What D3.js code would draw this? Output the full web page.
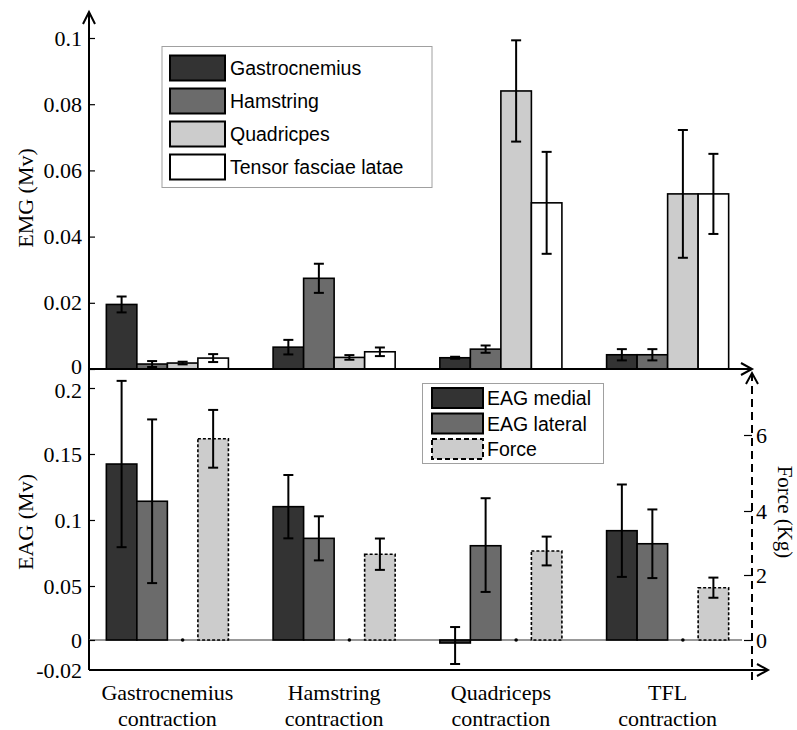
<!DOCTYPE html>
<html>
<head>
<meta charset="utf-8">
<script src="https://cdn.jsdelivr.net/npm/d3@7"></script>
<style>
  html, body { margin: 0; padding: 0; background: #fff; }
  svg { display: block; }
</style>
</head>
<body>
<svg id="chart" width="797" height="730"></svg>
<script>
// ---------------- DATA ----------------
const categories = ["Gastrocnemius contraction", "Hamstring contraction", "Quadriceps contraction", "TFL contraction"];
const catLines = [["Gastrocnemius", "contraction"], ["Hamstring", "contraction"], ["Quadriceps", "contraction"], ["TFL", "contraction"]];

// Top panel: EMG (Mv)
const emgSeries = ["Gastrocnemius", "Hamstring", "Quadricpes", "Tensor fasciae latae"];
const emgGastrocnemius = [0.0195, 0.0066, 0.0034, 0.0043];
const emgGastrocnemiusErr = [0.0024, 0.0022, 0.0003, 0.0017];
const emgHamstring = [0.0015, 0.0274, 0.0060, 0.0043];
const emgHamstringErr = [0.0009, 0.0044, 0.0011, 0.0017];
const emgQuadriceps = [0.0018, 0.0035, 0.0840, 0.0529];
const emgQuadricepsErr = [0.0004, 0.0007, 0.0153, 0.0193];
const emgTFL = [0.0033, 0.0052, 0.0502, 0.0529];
const emgTFLErr = [0.0012, 0.0013, 0.0154, 0.0121];
const emgTicks = [0, 0.02, 0.04, 0.06, 0.08, 0.1];
const emgTickLabels = ["0", "0.02", "0.04", "0.06", "0.08", "0.1"];

// Bottom panel: EAG (Mv) and Force (Kg)
const eagSeries = ["EAG medial", "EAG lateral", "Force"];
const eagMedial = [0.1424, 0.1101, -0.0020, 0.0919];
const eagMedialErr = [0.063, 0.024, 0.014, 0.035];
const eagLateral = [0.1142, 0.0861, 0.0805, 0.0820];
const eagLateralErr = [0.062, 0.0167, 0.036, 0.026];
const force = [5.90, 2.65, 2.75, 1.61];
const forceErr = [0.76, 0.49, 0.45, 0.31];
const eagTicks = [-0.02, 0, 0.05, 0.1, 0.15, 0.2];
const eagTickLabels = ["-0.02", "0", "0.05", "0.1", "0.15", "0.2"];
const forceTicks = [0, 2, 4, 6];
const forceTickLabels = ["0", "2", "4", "6"];

// ---------------- STYLE ----------------
const fills = ["#333333", "#6b6b6b", "#cccccc", "#ffffff"];
const serif = "'Liberation Serif', 'Times New Roman', serif";
const sans = "'Liberation Sans', Arial, sans-serif";
const serifSize = 22;

const svg = d3.select("#chart");

// ---------------- SCALES ----------------
const xAxisLeft = 89, xAxisRight = 752;
const x0 = d3.scaleBand().domain(categories).range([84, 751]).paddingInner(0.268).paddingOuter(0.134);
const x1 = d3.scaleBand().domain([0, 1, 2, 3]).range([0, x0.bandwidth()]);

const yTop = d3.scaleLinear().domain([0, 0.1]).range([369, 38]);
// bottom axes as drawn in the picture (piecewise linear)
const yBot = d3.scaleLinear().domain([-0.02, 0, 0.05, 0.2]).range([670, 640, 586, 388]);
const yForce = d3.scaleLinear().domain([0, 2, 4, 6]).range([640, 575, 511, 435]);

// ---------------- HELPERS ----------------
function drawBars(g, vals, errs, slot, yScale, fill, dashed) {
  const data = vals.map((v, i) => ({ c: categories[i], v: v, e: errs[i] }));
  const bx = d => x0(d.c) + x1(slot);
  const bw = x1.bandwidth();
  g.selectAll(null).data(data).enter().append("rect")
    .attr("x", bx)
    .attr("y", d => Math.min(yScale(d.v), yScale(0)))
    .attr("width", bw)
    .attr("height", d => Math.abs(yScale(0) - yScale(d.v)))
    .attr("fill", fill)
    .attr("stroke", "#000")
    .attr("stroke-width", 1.6)
    .attr("stroke-dasharray", dashed ? "3,2" : null);
  const eb = g.selectAll(null).data(data).enter().append("g")
    .attr("stroke", "#000").attr("stroke-width", 2);
  eb.append("line")
    .attr("x1", d => bx(d) + bw / 2).attr("x2", d => bx(d) + bw / 2)
    .attr("y1", d => yScale(d.v - d.e)).attr("y2", d => yScale(d.v + d.e));
  eb.append("line")
    .attr("x1", d => bx(d) + bw / 2 - 5).attr("x2", d => bx(d) + bw / 2 + 5)
    .attr("y1", d => yScale(d.v + d.e)).attr("y2", d => yScale(d.v + d.e));
  eb.append("line")
    .attr("x1", d => bx(d) + bw / 2 - 5).attr("x2", d => bx(d) + bw / 2 + 5)
    .attr("y1", d => yScale(d.v - d.e)).attr("y2", d => yScale(d.v - d.e));
}

// ---------------- TOP PANEL ----------------
const gTop = svg.append("g");
drawBars(gTop, emgGastrocnemius, emgGastrocnemiusErr, 0, yTop, fills[0], false);
drawBars(gTop, emgHamstring, emgHamstringErr, 1, yTop, fills[1], false);
drawBars(gTop, emgQuadriceps, emgQuadricepsErr, 2, yTop, fills[2], false);
drawBars(gTop, emgTFL, emgTFLErr, 3, yTop, fills[3], false);

// top y axis
const topAxis = svg.append("g").attr("transform", `translate(${xAxisLeft},0)`)
  .call(d3.axisLeft(yTop).tickValues(emgTicks).tickSize(-6).tickPadding(7)
    .tickFormat((d, i) => emgTickLabels[i]));
topAxis.select(".domain").remove();
topAxis.selectAll("line").attr("stroke", "#000").attr("stroke-width", 1.2);
topAxis.selectAll("text").attr("font-family", serif).attr("font-size", serifSize).attr("fill", "#000");
topAxis.selectAll(".tick").filter(d => d === 0).select("text").attr("dy", "0.2em");

// top x axis line (baseline) with arrow
svg.append("line").attr("x1", xAxisLeft).attr("x2", xAxisRight).attr("y1", yTop(0)).attr("y2", yTop(0))
  .attr("stroke", "#000").attr("stroke-width", 2);
svg.append("path").attr("d", `M${xAxisRight - 11},${yTop(0) - 6} L${xAxisRight},${yTop(0)} L${xAxisRight - 11},${yTop(0) + 6}`)
  .attr("fill", "none").attr("stroke", "#000").attr("stroke-width", 2);

// left y axis line (shared) with arrow at top
svg.append("line").attr("x1", xAxisLeft).attr("x2", xAxisLeft).attr("y1", 12).attr("y2", yBot(-0.02))
  .attr("stroke", "#000").attr("stroke-width", 2);
svg.append("path").attr("d", `M${xAxisLeft - 6},${24} L${xAxisLeft},${12} L${xAxisLeft + 6},${24}`)
  .attr("fill", "none").attr("stroke", "#000").attr("stroke-width", 2);

svg.append("text").attr("transform", "translate(28,198) rotate(-90)")
  .attr("text-anchor", "middle").attr("dominant-baseline", "middle")
  .attr("font-family", serif).attr("font-size", serifSize).text("EMG (Mv)");

// top legend
const leg1 = svg.append("g");
leg1.append("rect").attr("x", 162).attr("y", 46.5).attr("width", 270).attr("height", 141)
  .attr("fill", "#fff").attr("stroke", "#a0a0a0").attr("stroke-width", 1);
emgSeries.forEach((s, i) => {
  const cy = 68 + i * 33;
  leg1.append("rect").attr("x", 170).attr("y", cy - 12.5).attr("width", 55).attr("height", 25)
    .attr("fill", fills[i]).attr("stroke", "#000").attr("stroke-width", 2);
  leg1.append("text").attr("x", 230).attr("y", cy).attr("dominant-baseline", "central")
    .attr("font-family", sans).attr("font-size", 19.5).text(s);
});

// ---------------- BOTTOM PANEL ----------------
const gBot = svg.append("g");
// zero baseline
gBot.append("line").attr("x1", xAxisLeft).attr("x2", 742).attr("y1", yBot(0)).attr("y2", yBot(0))
  .attr("stroke", "#777").attr("stroke-width", 1.5);
drawBars(gBot, eagMedial, eagMedialErr, 0, yBot, fills[0], false);
drawBars(gBot, eagLateral, eagLateralErr, 1, yBot, fills[1], false);
// empty slot marker (zero-height placeholder)
gBot.selectAll(null).data(categories).enter().append("circle")
  .attr("cx", c => x0(c) + x1(2) + x1.bandwidth() / 2).attr("cy", yBot(0)).attr("r", 1.8).attr("fill", "#000");
drawBars(gBot, force, forceErr, 3, yForce, fills[2], true);

// bottom left axis ticks
const botAxis = svg.append("g").attr("transform", `translate(${xAxisLeft},0)`)
  .call(d3.axisLeft(yBot).tickValues(eagTicks).tickSize(-6).tickPadding(7)
    .tickFormat((d, i) => eagTickLabels[i]));
botAxis.select(".domain").remove();
botAxis.selectAll("line").attr("stroke", "#000").attr("stroke-width", 1.2);
botAxis.selectAll(".tick").filter(d => d === -0.02).select("line").remove();
botAxis.selectAll("text").attr("font-family", serif).attr("font-size", serifSize).attr("fill", "#000");
botAxis.selectAll(".tick").filter(d => d === 0.2).select("text").attr("dy", "0.45em");

// bottom x axis with arrow
svg.append("line").attr("x1", xAxisLeft).attr("x2", 768).attr("y1", yBot(-0.02)).attr("y2", yBot(-0.02))
  .attr("stroke", "#000").attr("stroke-width", 2);
svg.append("path").attr("d", `M${757},${yBot(-0.02) - 6} L${768},${yBot(-0.02)} L${757},${yBot(-0.02) + 6}`)
  .attr("fill", "none").attr("stroke", "#000").attr("stroke-width", 2);

// right dashed axis
svg.append("line").attr("x1", xAxisRight).attr("x2", xAxisRight).attr("y1", 373).attr("y2", 684)
  .attr("stroke", "#000").attr("stroke-width", 2).attr("stroke-dasharray", "8,5");
svg.append("path").attr("d", `M${xAxisRight - 6},${384} L${xAxisRight},${373} L${xAxisRight + 6},${384}`)
  .attr("fill", "none").attr("stroke", "#000").attr("stroke-width", 2);
const rAxis = svg.append("g").attr("transform", `translate(${xAxisRight},0)`)
  .call(d3.axisRight(yForce).tickValues(forceTicks).tickSize(-8).tickPadding(4)
    .tickFormat((d, i) => forceTickLabels[i]));
rAxis.select(".domain").remove();
rAxis.selectAll("line").attr("stroke", "#000").attr("stroke-width", 1.2);
rAxis.selectAll("text").attr("font-family", serif).attr("font-size", serifSize).attr("fill", "#000");

svg.append("text").attr("transform", "translate(28,522) rotate(-90)")
  .attr("text-anchor", "middle").attr("dominant-baseline", "middle")
  .attr("font-family", serif).attr("font-size", serifSize).text("EAG (Mv)");
svg.append("text").attr("transform", "translate(783,512) rotate(90)")
  .attr("text-anchor", "middle").attr("dominant-baseline", "middle")
  .attr("font-family", serif).attr("font-size", 21).text("Force (Kg)");

// bottom legend
const leg2 = svg.append("g");
leg2.append("rect").attr("x", 422.5).attr("y", 383.5).attr("width", 181).attr("height", 80)
  .attr("fill", "#fff").attr("stroke", "#a0a0a0").attr("stroke-width", 1);
eagSeries.forEach((s, i) => {
  const cy = 398 + i * 25.5;
  leg2.append("rect").attr("x", 432).attr("y", cy - 10).attr("width", 51).attr("height", 20)
    .attr("fill", fills[i === 2 ? 2 : i]).attr("stroke", "#000").attr("stroke-width", 2)
    .attr("stroke-dasharray", i === 2 ? "5,3" : null);
  leg2.append("text").attr("x", 487).attr("y", cy).attr("dominant-baseline", "central")
    .attr("font-family", sans).attr("font-size", 19.5).text(s);
});

// category labels
categories.forEach((c, i) => {
  const cx = x0(c) + x0.bandwidth() / 2;
  catLines[i].forEach((t, j) => {
    svg.append("text").attr("x", cx).attr("y", 700 + j * 26).attr("text-anchor", "middle")
      .attr("font-family", serif).attr("font-size", serifSize).text(t);
  });
});
</script>
</body>
</html>
